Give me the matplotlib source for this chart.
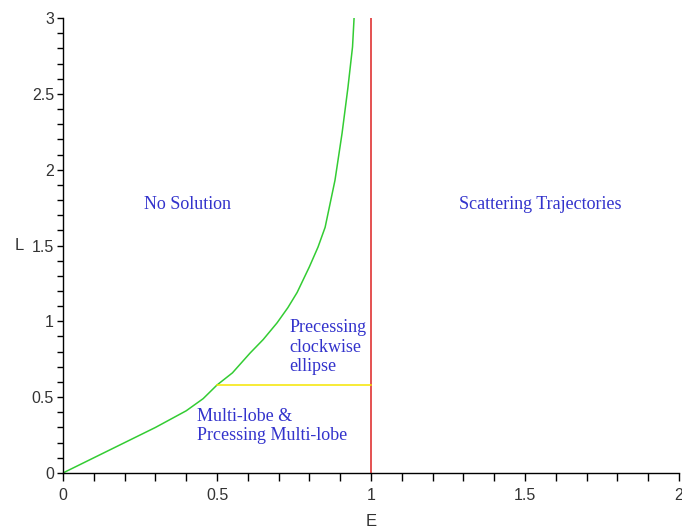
import matplotlib.pyplot as plt
from matplotlib.ticker import MultipleLocator

# boundary curve
curve_E = [0, 0.1, 0.2, 0.3, 0.4, 0.455, 0.5, 0.55, 0.607, 0.65, 0.695, 0.73,
           0.76, 0.8, 0.828, 0.851, 0.883, 0.906, 0.925, 0.94, 0.945]
curve_L = [0, 0.1, 0.2, 0.3, 0.41, 0.49, 0.58, 0.66, 0.79, 0.88, 0.99, 1.09,
           1.19, 1.36, 1.49, 1.62, 1.93, 2.24, 2.54, 2.81, 3.0]

E_scatter = 1.0
L_split = 0.58
split_E = [0.5, 1.0]

regions = [
    ("No Solution", 0.405, 1.77, "center"),
    ("Scattering Trajectories", 1.55, 1.77, "center"),
    ("Precessing\nclockwise\nellipse", 0.734, 0.83, "left"),
    ("Multi-lobe &\nPrcessing Multi-lobe", 0.435, 0.31, "left"),
]

fig = plt.figure(figsize=(6.82, 5.32), dpi=100)
ax = fig.add_axes([0.0924, 0.111, 0.9032, 0.855])

ax.plot(curve_E, curve_L, color="#33cc33", lw=1.1)
ax.plot([E_scatter, E_scatter], [0, 3], color="#dd2222", lw=1.1)
ax.plot(split_E, [L_split, L_split], color="#f5e600", lw=1.1)

for text, x, y, ha in regions:
    ax.text(x, y, text, ha=ha, va="center", color="#3333cc",
            fontfamily="Liberation Serif", fontsize=13, linespacing=1.2)

ax.set_xlim(0, 2)
ax.set_ylim(0, 3)
ax.xaxis.set_major_locator(MultipleLocator(0.5))
ax.xaxis.set_minor_locator(MultipleLocator(0.1))
ax.yaxis.set_major_locator(MultipleLocator(0.5))
ax.yaxis.set_minor_locator(MultipleLocator(0.1))
ax.xaxis.set_major_formatter(lambda v, p: f"{v:g}")
ax.yaxis.set_major_formatter(lambda v, p: f"{v:g}")

for s in ["top", "right"]:
    ax.spines[s].set_visible(False)
for s in ["left", "bottom"]:
    ax.spines[s].set_linewidth(1.0)

ax.tick_params(which="both", width=1, colors="black",
               labelcolor="#333333", labelsize=11.5)
ax.tick_params(axis="x", which="both", length=6, pad=5)
ax.tick_params(axis="y", which="both", length=4.5, pad=2)
for lbl in ax.get_xticklabels() + ax.get_yticklabels():
    lbl.set_fontfamily("Liberation Sans")

ax.set_xlabel("E", fontfamily="Liberation Sans", fontsize=12, color="#333333")
ax.set_ylabel("L", fontfamily="Liberation Sans", fontsize=12, color="#333333",
              rotation=0, va="center", ha="center")
ax.yaxis.set_label_coords(-0.071, 0.5)
ax.xaxis.set_label_coords(0.5, -0.09)

fig.savefig("out.png", dpi=100)
